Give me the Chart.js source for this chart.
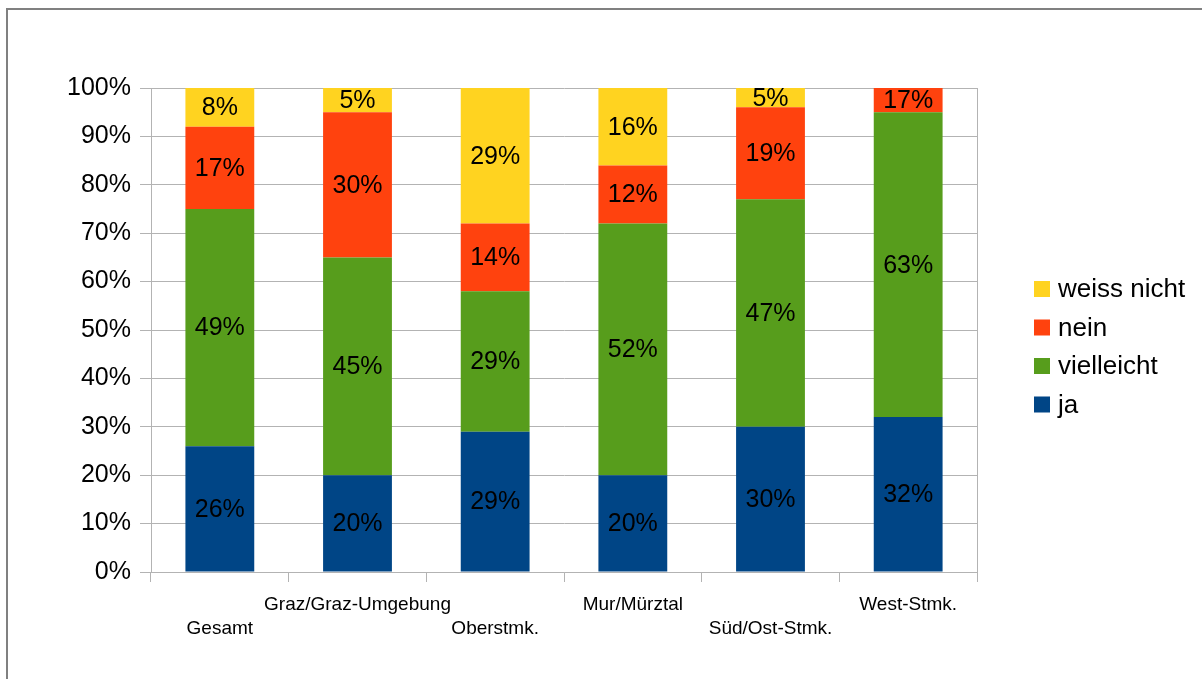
<!DOCTYPE html>
<html>
<head>
<meta charset="utf-8">
<script src="https://cdn.jsdelivr.net/npm/chart.js@4"></script>
<style>
    body { margin: 0; background: #fff; overflow: hidden; }
    .wrap { position: relative; width: 1202px; height: 679px; }
    .frame { position: absolute; left: 6px; top: 8px; width: 1300px; height: 800px;
             border-left: 2px solid #808080; border-top: 2px solid #808080; }
    canvas { position: absolute; left: 0; top: 0; }
</style>
</head>
<body>
<div class="wrap">
    <div class="frame"></div>
    <canvas id="chart" width="1202" height="679"></canvas>
</div>
<script>
// Daten
const categories = ['Gesamt', 'Graz/Graz-Umgebung', 'Oberstmk.', 'Mur/Mürztal', 'Süd/Ost-Stmk.', 'West-Stmk.'];
const ja = [26, 20, 29, 20, 30, 32];
const vielleicht = [49, 45, 29, 52, 47, 63];
const nein = [17, 30, 14, 12, 19, 17];
const weissNicht = [8, 5, 29, 16, 5, 0];
const yTicks = ['0%', '10%', '20%', '30%', '40%', '50%', '60%', '70%', '80%', '90%', '100%'];

const FONT = "'Liberation Sans', Arial, sans-serif";
const gridColor = '#b3b3b3';

// Werte in den Balken (nur sichtbarer Teil, oben abgeschnitten)
const barLabels = {
    id: 'barLabels',
    afterDatasetsDraw(chart) {
        const ctx = chart.ctx;
        const top = chart.chartArea.top;
        ctx.save();
        ctx.font = '25px ' + FONT;
        ctx.fillStyle = '#000';
        ctx.textAlign = 'center';
        ctx.textBaseline = 'middle';
        chart.data.datasets.forEach((ds, i) => {
            const meta = chart.getDatasetMeta(i);
            meta.data.forEach((bar, j) => {
                const v = ds.data[j];
                if (!v) return;
                const y1 = Math.max(bar.y, top);
                const y2 = bar.base;
                if (y2 <= y1) return;
                ctx.fillText(v + '%', bar.x, (y1 + y2) / 2 + 1);
            });
        });
        ctx.restore();
    }
};

// rechter Rand der Zeichenfläche
const plotBorder = {
    id: 'plotBorder',
    beforeDatasetsDraw(chart) {
        const a = chart.chartArea;
        const ctx = chart.ctx;
        ctx.save();
        ctx.strokeStyle = gridColor;
        ctx.lineWidth = 1;
        ctx.beginPath();
        ctx.moveTo(a.right + 0.5, a.top);
        ctx.lineTo(a.right + 0.5, a.bottom);
        ctx.stroke();
        ctx.restore();
    }
};

// Legende rechts, umgekehrte Reihenfolge
const sideLegend = {
    id: 'sideLegend',
    afterDraw(chart) {
        const ctx = chart.ctx;
        const ds = chart.data.datasets.slice().reverse();
        ctx.save();
        ctx.font = '26px ' + FONT;
        ctx.textBaseline = 'middle';
        ctx.textAlign = 'left';
        ds.forEach((d, i) => {
            const cy = 289 + i * 38.5;
            ctx.fillStyle = d.backgroundColor;
            ctx.fillRect(1034, cy - 8, 16, 16);
            ctx.fillStyle = '#000';
            ctx.fillText(d.label, 1058, cy + 1);
        });
        ctx.restore();
    }
};

new Chart(document.getElementById('chart'), {
    type: 'bar',
    data: {
        labels: categories,
        datasets: [
            { label: 'ja', data: ja, backgroundColor: '#004586' },
            { label: 'vielleicht', data: vielleicht, backgroundColor: '#579d1c' },
            { label: 'nein', data: nein, backgroundColor: '#ff420e' },
            { label: 'weiss nicht', data: weissNicht, backgroundColor: '#ffd320' }
        ]
    },
    options: {
        responsive: false,
        animation: false,
        layout: { padding: { left: 0, top: 88, right: 225, bottom: 0 } },
        datasets: {
            bar: { categoryPercentage: 1, barPercentage: 0.5, borderWidth: 0 }
        },
        plugins: {
            legend: { display: false },
            tooltip: { enabled: false }
        },
        scales: {
            x: {
                stacked: true,
                afterFit: (s) => { s.height = 107; },
                grid: {
                    offset: true,
                    drawOnChartArea: false,
                    color: gridColor,
                    tickLength: 10
                },
                border: { color: gridColor },
                ticks: {
                    color: '#000',
                    padding: 10,
                    maxRotation: 0,
                    autoSkip: false,
                    font: { family: FONT, size: 19, lineHeight: 1.3 },
                    callback: function(value, index) {
                        const l = categories[index];
                        return index % 2 === 0 ? ['', l] : l;
                    }
                }
            },
            y: {
                stacked: true,
                min: 0,
                max: 100,
                afterFit: (s) => { s.width = 151; },
                grid: { color: gridColor, tickLength: 11 },
                border: { color: gridColor },
                ticks: {
                    stepSize: 5,
                    color: '#000',
                    padding: 9,
                    font: { family: FONT, size: 25 },
                    callback: function(value) {
                        return value % 10 === 0 ? yTicks[value / 10] : '';
                    }
                }
            }
        }
    },
    plugins: [plotBorder, barLabels, sideLegend]
});
</script>
</body>
</html>
